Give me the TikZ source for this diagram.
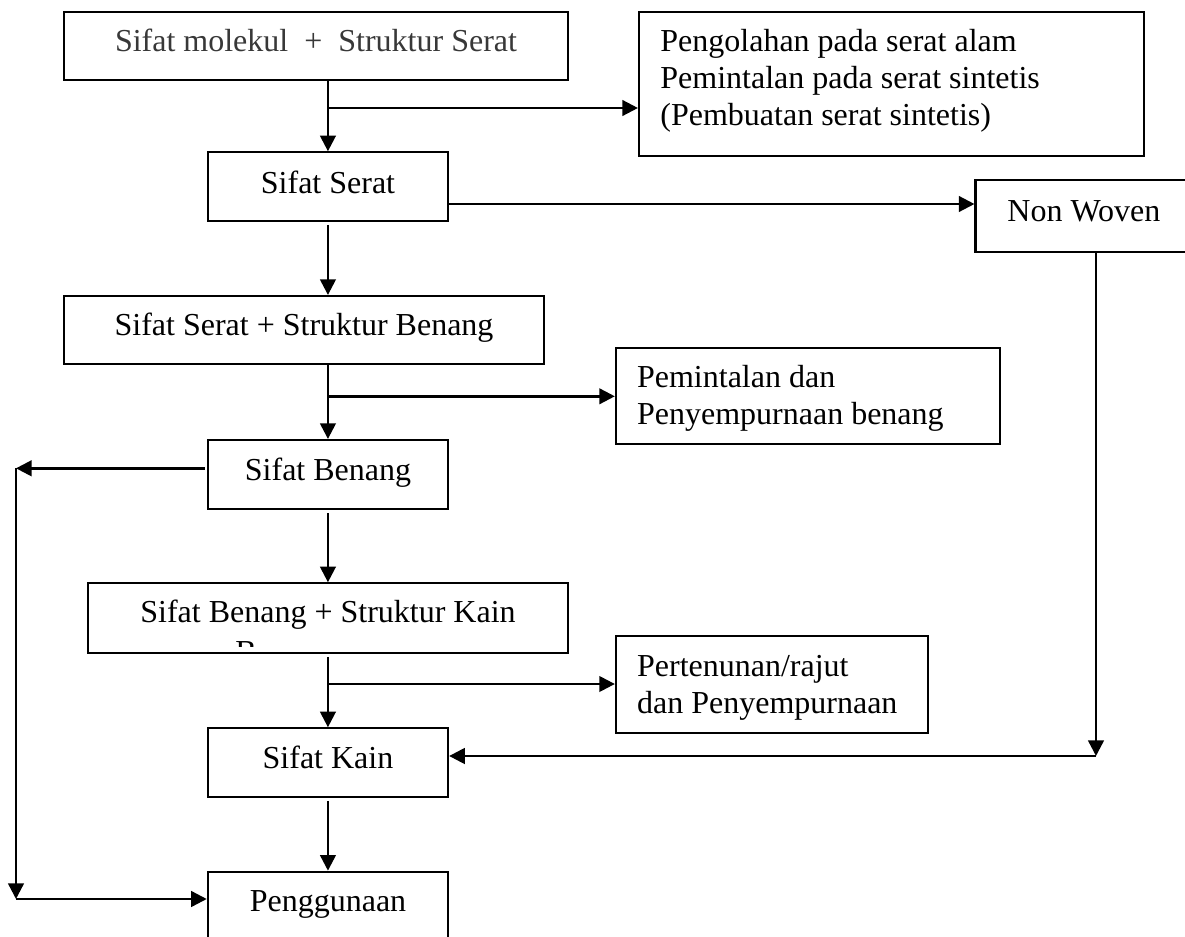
\documentclass[tikz,border=0pt]{standalone}
\usepackage{fontspec}
\setmainfont{Liberation Serif}
\usetikzlibrary{arrows.meta,fit}
\newcommand{\linesof}[1]{\begin{tabular}[t]{@{}l@{}}#1\end{tabular}}
\begin{document}
\begin{tikzpicture}[x=0.5pt,y=-0.5pt,
  box/.style={draw=black, line width=1.05pt, inner sep=0pt},
  lbl/.style={inner sep=0pt, font=\fontsize{16}{18.5}\selectfont, anchor=base},
  multi/.style={inner sep=0pt, font=\fontsize{16}{18.5}\selectfont, anchor=base west},
  arr/.style={line width=1.2pt, -{Triangle[length=7.8pt,width=7.8pt]}}]
\path[use as bounding box] (0,0) rectangle (1185,937);
\clip (0,0) rectangle (1185,937);
% boxes
\node[box, fit={(63.9,12.3) (568.3,80.3)}] (b1) {};
\node[box, fit={(639,12.3) (1144,156)}] (pg1) {};
\node[box, fit={(207.8,152.3) (448.1,220.7)}] (ss) {};
\node[box, fit={(975.5,180) (1216.5,252)}] (nw) {};
\node[box, fit={(63.9,296) (544.2,364.3)}] (sb1) {};
\node[box, fit={(615.9,348) (1000.1,444)}] (pm) {};
\node[box, fit={(207.8,440) (448.1,509)}] (sb) {};
\node[box, fit={(87.6,583.3) (568.3,652.7)}] (sk1) {};
\node[box, fit={(615.9,636) (928.4,732.7)}] (pt) {};
\node[box, fit={(207.8,728.3) (448.1,796.7)}] (sk) {};
\node[box, fit={(207.8,871.7) (448.1,980)}] (pgn) {};
% texts
\node[lbl, text=black!78] (t1) at (316,51.7) {Sifat molekul\ \ +\ \ Struktur Serat};
\node[multi] (t2) at (660,51.7) {\linesof{Pengolahan pada serat alam\\Pemintalan pada serat sintetis\\(Pembuatan serat sintetis)}};
\node[lbl] (t3) at (328,193.3) {Sifat Serat};
\node[lbl, anchor=base west] (t4) at (1007,221) {Non Woven};
\node[lbl] (t5) at (304,335) {Sifat Serat + Struktur Benang};
\node[multi] (t6) at (636.7,387.3) {\linesof{Pemintalan dan\\Penyempurnaan benang}};
\node[lbl] (t7) at (328,480) {Sifat Benang};
\node[lbl] (t8) at (328,622.3) {Sifat Benang + Struktur Kain};
\begin{scope}
\clip (90,585) rectangle (566,646);
\node[lbl, anchor=base west] (t8b) at (235,662) {B};
\end{scope}
\node[multi] (t9) at (636.7,676) {\linesof{Pertenunan/rajut\\dan Penyempurnaan}};
\node[lbl] (t10) at (328,768.3) {Sifat Kain};
\node[lbl] (t11) at (328,911.7) {Penggunaan};
% connectors
\draw[arr] (b1.south -| ss.north) -- (ss.north);
\coordinate (j1) at (328,108);
\draw[arr] (j1) -- (j1 -| pg1.west);
\coordinate (k1) at (448.1,204);
\draw[arr] (k1) -- (k1 -| nw.west);
\draw[arr, shorten <=1.5pt] (ss.south) -- (ss.south |- sb1.north);
\draw[arr] (sb1.south -| sb.north) -- (sb.north);
\coordinate (j2) at (328,396.3);
\draw[arr] (j2) -- (j2 -| pm.west);
\coordinate (k2) at (207.8,468.3);
\coordinate (L1) at (16,468.3);
\coordinate (L2) at (16,899);
\draw[arr, shorten <=1.5pt] (k2) -- (L1);
\draw[arr] (L1) -- (L2);
\draw[arr] (L2) -- (L2 -| pgn.west);
\draw[arr, shorten <=1.5pt] (sb.south) -- (sb.south |- sk1.north);
\draw[arr, shorten <=1.5pt] (sk1.south -| sk.north) -- (sk.north);
\coordinate (j3) at (328,684);
\draw[arr] (j3) -- (j3 -| pt.west);
\coordinate (N1) at (1096,756);
\draw[arr] (nw.south) -- (N1);
\draw[arr] (N1) -- (N1 -| sk.east);
\draw[arr, shorten <=1.5pt] (sk.south) -- (pgn.north);
\end{tikzpicture}
\end{document}
